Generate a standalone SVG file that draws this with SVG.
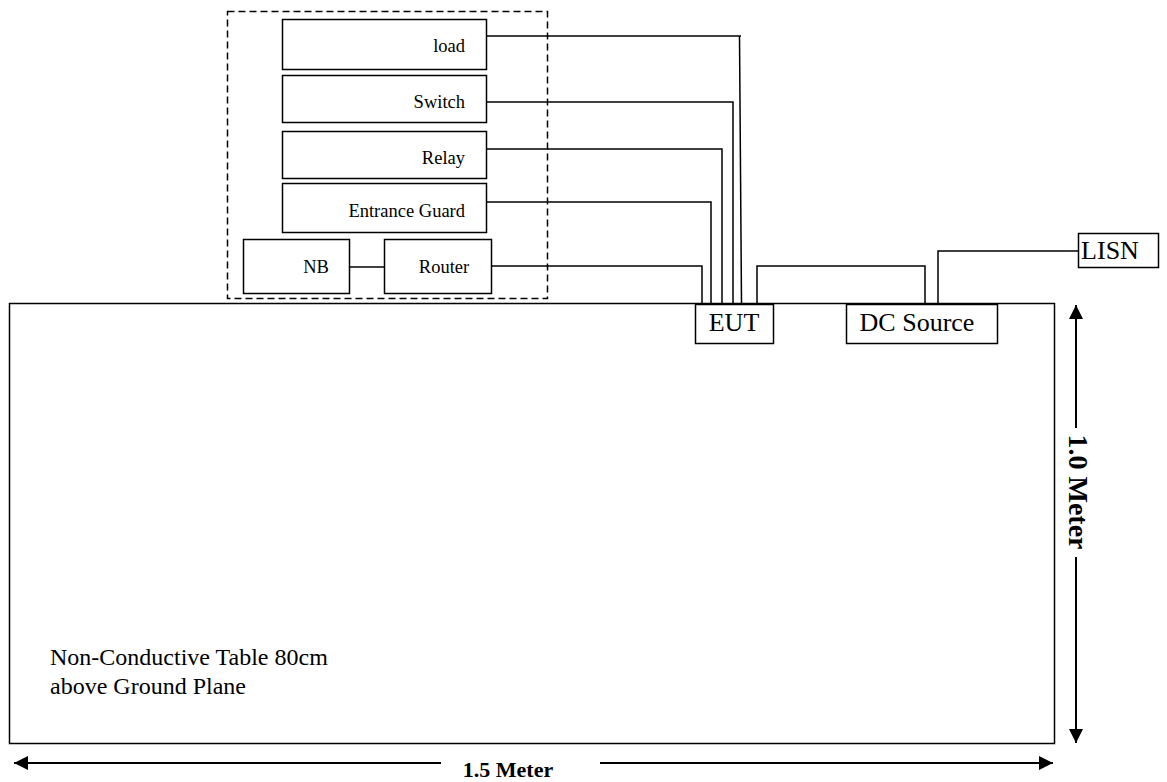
<svg xmlns="http://www.w3.org/2000/svg" width="1167" height="782" viewBox="0 0 1167 782">
<defs>
<style>
.box{fill:#fff;stroke:#000;stroke-width:1.5}
.w{fill:none;stroke:#000;stroke-width:1.5}
.lbl{font-family:"Liberation Serif","Times New Roman",serif;font-size:18.5px;fill:#000}
.big{font-family:"Liberation Serif","Times New Roman",serif;font-size:26px;fill:#000}
.dim{font-family:"Liberation Serif","Times New Roman",serif;font-weight:bold;fill:#000}
</style>
<marker id="ah" viewBox="0 0 14 14" refX="14" refY="7" markerWidth="14" markerHeight="14" markerUnits="userSpaceOnUse" orient="auto-start-reverse">
<path d="M0,0 L14,7 L0,14 Z" fill="#000"/>
</marker>
</defs>
<rect width="1167" height="782" fill="#fff"/>

<g id="table">
<rect class="box" x="9.5" y="303.5" width="1045" height="440"/>
<text class="big" x="50" y="665" style="font-size:24px">Non-Conductive Table 80cm</text>
<text class="big" x="50" y="694" style="font-size:24px">above Ground Plane</text>
</g>

<g id="group-box">
<rect x="227.5" y="11.5" width="320" height="287" fill="none" stroke="#000" stroke-width="1.5" stroke-dasharray="7,4"/>
</g>

<g id="connectors">
<polyline class="w" points="486,36 741,36"/>
<line class="w" x1="739.5" y1="36" x2="741.5" y2="304"/>
<polyline class="w" points="486,102 733,102 733,304"/>
<polyline class="w" points="486,149 722,149 722,304"/>
<polyline class="w" points="486,202 711,202 711,304"/>
<polyline class="w" points="491,266 702,266 702,304"/>
<line class="w" x1="349" y1="267" x2="384" y2="267"/>
<polyline class="w" points="757,304 757,266 925,266 925,304"/>
<polyline class="w" points="938,304 938,251 1078,251"/>
</g>

<g id="load"><rect class="box" x="282.5" y="19.5" width="204" height="50"/><text class="lbl" x="465" y="52" text-anchor="end">load</text></g>
<g id="switch"><rect class="box" x="282.5" y="75.5" width="204" height="47"/><text class="lbl" x="465" y="108" text-anchor="end">Switch</text></g>
<g id="relay"><rect class="box" x="282.5" y="131.5" width="204" height="47"/><text class="lbl" x="465" y="164" text-anchor="end">Relay</text></g>
<g id="entrance-guard"><rect class="box" x="282.5" y="183.5" width="204" height="49"/><text class="lbl" x="465" y="217" text-anchor="end">Entrance Guard</text></g>
<g id="nb"><rect class="box" x="243.5" y="239.5" width="106" height="54"/><text class="lbl" x="316" y="273" text-anchor="middle">NB</text></g>
<g id="router"><rect class="box" x="384.5" y="239.5" width="107" height="54"/><text class="lbl" x="444" y="273" text-anchor="middle">Router</text></g>

<g id="eut"><rect class="box" x="695.5" y="304.5" width="78" height="39"/><text class="big" x="734" y="331" text-anchor="middle">EUT</text></g>
<g id="dc-source"><rect class="box" x="846.5" y="304.5" width="151" height="39"/><text class="big" x="917" y="331" text-anchor="middle">DC Source</text></g>
<g id="lisn"><rect class="box" x="1078.5" y="233.5" width="80" height="34"/><text class="big" x="1110" y="259" text-anchor="middle">LISN</text></g>

<g id="dimensions">
<line x1="1076" y1="305" x2="1076" y2="428" stroke="#000" stroke-width="2" marker-start="url(#ah)"/>
<line x1="1076" y1="557" x2="1076" y2="743" stroke="#000" stroke-width="2" marker-end="url(#ah)"/>
<text class="dim" transform="translate(1069,492) rotate(90)" text-anchor="middle" style="font-size:28px">1.0 Meter</text>
<line x1="14" y1="763" x2="441" y2="763" stroke="#000" stroke-width="2" marker-start="url(#ah)"/>
<line x1="600" y1="763" x2="1053" y2="763" stroke="#000" stroke-width="2" marker-end="url(#ah)"/>
<text class="dim" x="508" y="777" text-anchor="middle" style="font-size:22px">1.5 Meter</text>
</g>
</svg>
